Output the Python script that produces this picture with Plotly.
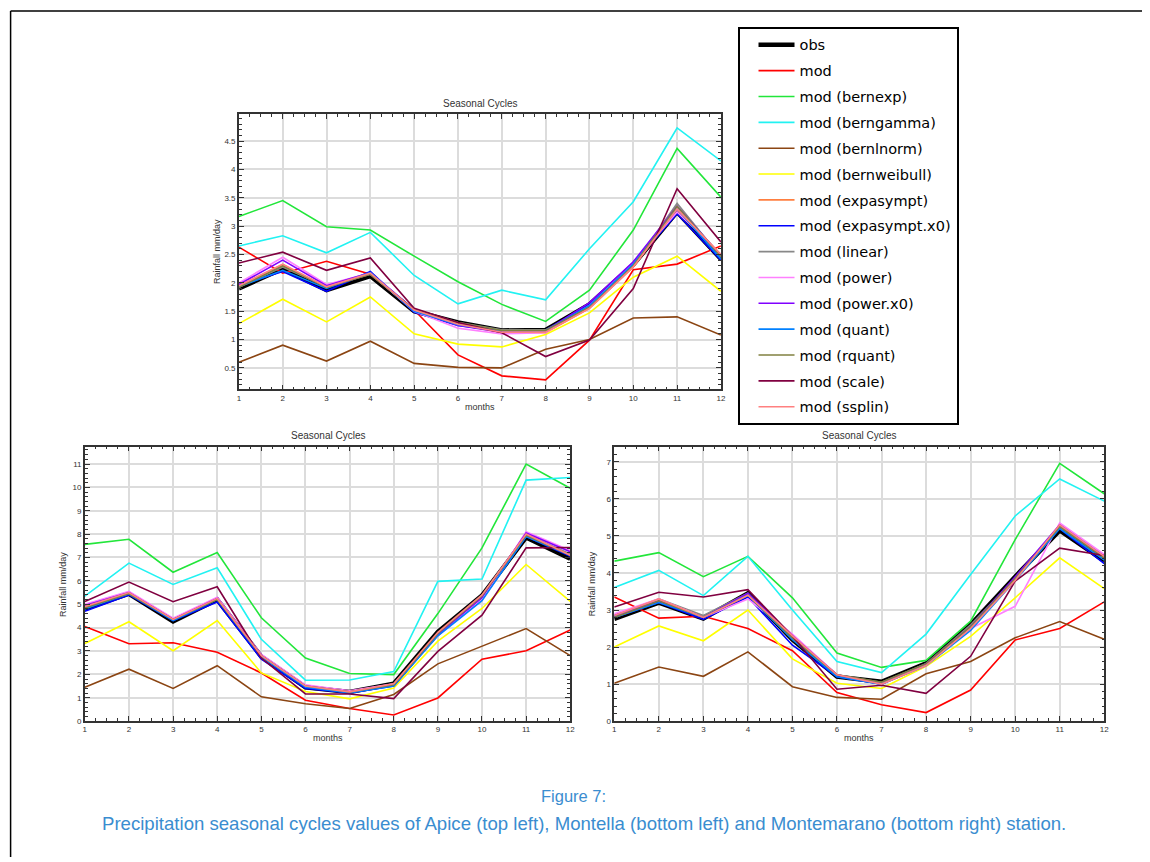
import plotly.graph_objects as go

# page is 1150x862; browser body has an 8px margin, so figure = 1142x854 placed at (8, 8)
PAGE_OFF = 8
FW, FH = 1150 - PAGE_OFF, 862 - PAGE_OFF


def px(x):
    return (x - PAGE_OFF) / FW


def py(y):
    return 1 - (y - PAGE_OFF) / FH


months = list(range(1, 13))

series_names = ["obs", "mod", "mod (bernexp)", "mod (berngamma)", "mod (bernlnorm)",
                "mod (bernweibull)", "mod (expasympt)", "mod (expasympt.x0)", "mod (linear)",
                "mod (power)", "mod (power.x0)", "mod (quant)", "mod (rquant)",
                "mod (scale)", "mod (ssplin)"]
series_colors = ["#000000", "#ff0000", "#22e63a", "#22f2f2", "#8b4513",
                 "#ffff00", "#ff7f40", "#0000ff", "#888888",
                 "#ff80ff", "#8000ff", "#0080ff", "#808040",
                 "#800040", "#ff8080"]

# Apice (top)
apice = {
    "obs":                [1.90, 2.25, 1.87, 2.12, 1.50, 1.30, 1.16, 1.17, 1.62, 2.32, 3.25, 2.42],
    "mod":                [2.63, 2.17, 2.38, 2.15, 1.52, 0.73, 0.36, 0.29, 0.99, 2.23, 2.33, 2.65],
    "mod (bernexp)":      [3.17, 3.45, 2.99, 2.93, 2.47, 2.02, 1.62, 1.32, 1.87, 2.93, 4.37, 3.51],
    "mod (berngamma)":    [2.65, 2.83, 2.53, 2.89, 2.13, 1.63, 1.87, 1.70, 2.60, 3.43, 4.73, 4.15],
    "mod (bernlnorm)":    [0.60, 0.90, 0.62, 0.97, 0.58, 0.51, 0.50, 0.83, 1.00, 1.38, 1.40, 1.08],
    "mod (bernweibull)":  [1.28, 1.71, 1.31, 1.75, 1.10, 0.92, 0.87, 1.09, 1.47, 2.10, 2.47, 1.85],
    "mod (expasympt)":    [1.93, 2.32, 1.92, 2.16, 1.52, 1.27, 1.12, 1.12, 1.55, 2.28, 3.30, 2.50],
    "mod (expasympt.x0)": [1.95, 2.20, 1.85, 2.20, 1.48, 1.25, 1.15, 1.17, 1.62, 2.33, 3.22, 2.40],
    "mod (linear)":       [1.92, 2.28, 1.93, 2.15, 1.52, 1.30, 1.17, 1.17, 1.58, 2.30, 3.40, 2.45],
    "mod (power)":        [2.00, 2.45, 1.97, 2.17, 1.50, 1.20, 1.10, 1.12, 1.60, 2.35, 3.25, 2.50],
    "mod (power.x0)":     [1.97, 2.40, 1.95, 2.18, 1.53, 1.25, 1.13, 1.15, 1.65, 2.37, 3.35, 2.48],
    "mod (quant)":        [1.93, 2.22, 1.90, 2.18, 1.50, 1.26, 1.15, 1.15, 1.60, 2.33, 3.30, 2.42],
    "mod (rquant)":       [1.92, 2.30, 1.92, 2.15, 1.53, 1.30, 1.16, 1.16, 1.57, 2.30, 3.35, 2.47],
    "mod (scale)":        [2.35, 2.54, 2.22, 2.44, 1.55, 1.30, 1.12, 0.70, 0.99, 1.90, 3.66, 2.72],
    "mod (ssplin)":       [1.95, 2.33, 1.93, 2.17, 1.52, 1.27, 1.13, 1.13, 1.55, 2.28, 3.30, 2.50],
}

# Montella (bottom left)
montella = {
    "obs":                [4.80, 5.45, 4.27, 5.20, 2.76, 1.45, 1.25, 1.60, 3.82, 5.37, 7.86, 6.95],
    "mod":                [4.05, 3.31, 3.35, 2.95, 2.06, 0.89, 0.54, 0.26, 0.99, 2.65, 3.01, 3.90],
    "mod (bernexp)":      [7.56, 7.78, 6.37, 7.21, 4.42, 2.70, 2.04, 1.99, 4.60, 7.41, 11.0, 9.96],
    "mod (berngamma)":    [5.35, 6.76, 5.85, 6.56, 3.50, 1.75, 1.76, 2.12, 5.98, 6.08, 10.31, 10.42],
    "mod (bernlnorm)":    [1.45, 2.22, 1.40, 2.37, 1.04, 0.74, 0.54, 1.14, 2.45, 3.22, 3.96, 2.80],
    "mod (bernweibull)":  [3.32, 4.25, 3.01, 4.30, 2.06, 1.27, 0.95, 1.41, 3.42, 4.82, 6.70, 5.12],
    "mod (expasympt)":    [4.90, 5.45, 4.35, 5.25, 2.75, 1.50, 1.25, 1.55, 3.65, 5.30, 7.95, 7.10],
    "mod (expasympt.x0)": [4.70, 5.40, 4.30, 5.10, 2.65, 1.40, 1.20, 1.50, 3.70, 5.20, 7.90, 7.05],
    "mod (linear)":       [4.85, 5.50, 4.35, 5.25, 2.80, 1.50, 1.25, 1.55, 3.75, 5.35, 8.00, 7.15],
    "mod (power)":        [5.00, 5.55, 4.40, 5.30, 2.85, 1.55, 1.30, 1.60, 3.70, 5.20, 8.10, 7.30],
    "mod (power.x0)":     [4.95, 5.50, 4.35, 5.25, 2.80, 1.50, 1.25, 1.55, 3.70, 5.30, 8.05, 7.25],
    "mod (quant)":        [4.80, 5.45, 4.30, 5.20, 2.75, 1.45, 1.20, 1.50, 3.65, 5.15, 7.90, 7.10],
    "mod (rquant)":       [4.85, 5.45, 4.35, 5.20, 2.80, 1.50, 1.25, 1.55, 3.75, 5.35, 7.95, 7.10],
    "mod (scale)":        [5.12, 5.95, 5.11, 5.75, 2.70, 1.16, 1.16, 0.96, 2.98, 4.53, 7.41, 7.43],
    "mod (ssplin)":       [4.90, 5.50, 4.35, 5.25, 2.80, 1.50, 1.25, 1.60, 3.80, 5.40, 8.00, 7.10],
}

# Montemarano (bottom right)
montemarano = {
    "obs":                [2.76, 3.20, 2.77, 3.45, 2.20, 1.20, 1.06, 1.56, 2.60, 3.90, 5.15, 4.33],
    "mod":                [3.35, 2.78, 2.83, 2.50, 1.90, 0.77, 0.44, 0.23, 0.84, 2.19, 2.50, 3.22],
    "mod (bernexp)":      [4.32, 4.55, 3.90, 4.45, 3.33, 1.84, 1.45, 1.64, 2.70, 4.90, 6.96, 6.14],
    "mod (berngamma)":    [3.61, 4.07, 3.39, 4.45, 3.00, 1.61, 1.31, 2.35, 3.96, 5.54, 6.54, 5.94],
    "mod (bernlnorm)":    [1.02, 1.46, 1.21, 1.87, 0.93, 0.64, 0.59, 1.28, 1.61, 2.25, 2.69, 2.21],
    "mod (bernweibull)":  [2.00, 2.57, 2.17, 3.00, 1.68, 1.02, 0.88, 1.48, 2.29, 3.33, 4.41, 3.58],
    "mod (expasympt)":    [2.80, 3.25, 2.80, 3.40, 2.30, 1.25, 1.00, 1.50, 2.50, 3.80, 5.25, 4.45],
    "mod (expasympt.x0)": [2.80, 3.20, 2.75, 3.35, 2.05, 1.20, 1.00, 1.55, 2.55, 3.85, 5.20, 4.25],
    "mod (linear)":       [2.85, 3.30, 2.85, 3.45, 2.25, 1.25, 1.05, 1.55, 2.60, 3.85, 5.25, 4.40],
    "mod (power)":        [2.90, 3.30, 2.80, 3.30, 2.35, 1.25, 1.00, 1.50, 2.50, 3.10, 5.35, 4.50],
    "mod (power.x0)":     [2.85, 3.25, 2.80, 3.45, 2.30, 1.25, 1.00, 1.55, 2.55, 3.90, 5.30, 4.45],
    "mod (quant)":        [2.80, 3.20, 2.80, 3.40, 2.20, 1.20, 1.00, 1.50, 2.45, 3.80, 5.20, 4.35],
    "mod (rquant)":       [2.80, 3.25, 2.80, 3.40, 2.25, 1.25, 1.05, 1.55, 2.55, 3.85, 5.25, 4.40],
    "mod (scale)":        [3.08, 3.48, 3.35, 3.55, 2.30, 0.86, 0.97, 0.75, 1.75, 3.78, 4.67, 4.47],
    "mod (ssplin)":       [2.85, 3.30, 2.80, 3.40, 2.30, 1.25, 1.00, 1.50, 2.50, 3.80, 5.30, 4.45],
}

panel_title = "Seasonal Cycles"
x_title = "months"
y_title = "Rainfall mm/day"
caption_1 = "Figure 7:"
caption_2 = ("Precipitation seasonal cycles values of Apice (top left), Montella (bottom left) "
             "and Montemarano (bottom right) station.")

# panel boxes in page pixels: (x0, x1, ytop, ybottom)
panels = [
    ("x", "y", apice, (238.3, 723.3, 115.0, 391.7), [0.12, 4.97], 0.5, 0.1),
    ("x2", "y2", montella, (83.3, 571.7, 449.3, 725.3), [0, 11.74], 1, 0.2),
    ("x3", "y3", montemarano, (616.0, 1109.0, 449.3, 725.3), [0, 7.41], 1, 0.2),
]

fig = go.Figure()
for pi, (xa, ya, data, box, yr, ydt, yminor) in enumerate(panels):
    for name, color in zip(series_names, series_colors):
        fig.add_trace(go.Scatter(
            x=months, y=data[name], mode="lines", name=name,
            xaxis=xa, yaxis=ya, legendgroup=name, showlegend=(pi == 0),
            line=dict(color=color, width=4.5 if name == "obs" else 1.6),
        ))

font_family = "Liberation Sans, Arial, sans-serif"
axis_common = dict(
    showline=True, linecolor="#333333", linewidth=1.5, mirror="ticks",
    ticks="inside", ticklen=5, tickcolor="#333333", tickwidth=1,
    showgrid=True, gridcolor="#dcdcdc", gridwidth=1.5, zeroline=False,
    tickfont=dict(size=8, color="#333333", family=font_family),
)

layout = dict(
    width=FW, height=FH, margin=dict(l=0, r=0, t=0, b=0),
    paper_bgcolor="white", plot_bgcolor="white", showlegend=True,
    legend=dict(x=px(740), y=py(27), xanchor="left", yanchor="top",
                bgcolor="white", bordercolor="black", borderwidth=2,
                font=dict(family="DejaVu Sans", size=14.5, color="black"),
                tracegroupgap=4, itemwidth=36, indentation=14),
)

annotations = []
for pi, (xa, ya, data, box, yr, ydt, yminor) in enumerate(panels):
    x0, x1, yt, yb = box
    suffix = "" if pi == 0 else str(pi + 1)
    layout["xaxis" + suffix] = dict(
        axis_common, domain=[px(x0), px(x1)], range=[1, 12], dtick=1, tick0=1,
        anchor=ya, minor=dict(dtick=0.25, ticks="inside", ticklen=3, tickcolor="#333333", showgrid=False),
    )
    layout["yaxis" + suffix] = dict(
        axis_common, domain=[py(yb), py(yt)], range=yr, dtick=ydt, tick0=0,
        anchor=xa, minor=dict(dtick=yminor, ticks="inside", ticklen=3, tickcolor="#333333", showgrid=False),
    )
    xc = (x0 + x1) / 2
    yc = (yt + yb) / 2
    annotations.append(dict(text=panel_title, x=px(xc), y=py(yt - 11), xref="paper", yref="paper",
                            showarrow=False, xanchor="center", yanchor="middle",
                            font=dict(size=10, color="#333333", family=font_family)))
    annotations.append(dict(text=x_title, x=px(xc), y=py(yb + 17.5), xref="paper", yref="paper",
                            showarrow=False, xanchor="center", yanchor="middle",
                            font=dict(size=9, color="#333333", family=font_family)))
    annotations.append(dict(text=y_title, x=px(x0 - 22), y=py(yc), xref="paper", yref="paper",
                            showarrow=False, xanchor="center", yanchor="middle", textangle=-90,
                            font=dict(size=9, color="#333333", family=font_family)))

cap_color = "#3a8dd0"
annotations.append(dict(text=caption_1, x=px(575), y=py(801), xref="paper", yref="paper",
                        showarrow=False, xanchor="center", yanchor="middle",
                        font=dict(size=16.5, color=cap_color, family=font_family)))
annotations.append(dict(text=caption_2, x=px(586), y=py(828), xref="paper", yref="paper",
                        showarrow=False, xanchor="center", yanchor="middle",
                        font=dict(size=18.6, color=cap_color, family=font_family)))
layout["annotations"] = annotations

layout["shapes"] = [
    dict(type="line", xref="paper", yref="paper", x0=0.6 / FW, x1=1.0, y0=py(11), y1=py(11),
         line=dict(color="black", width=1.5)),
    dict(type="line", xref="paper", yref="paper", x0=0.6 / FW, x1=0.6 / FW, y0=py(11), y1=0,
         line=dict(color="black", width=1.5)),
]

fig.update_layout(**layout)
fig.write_html("out.html")
